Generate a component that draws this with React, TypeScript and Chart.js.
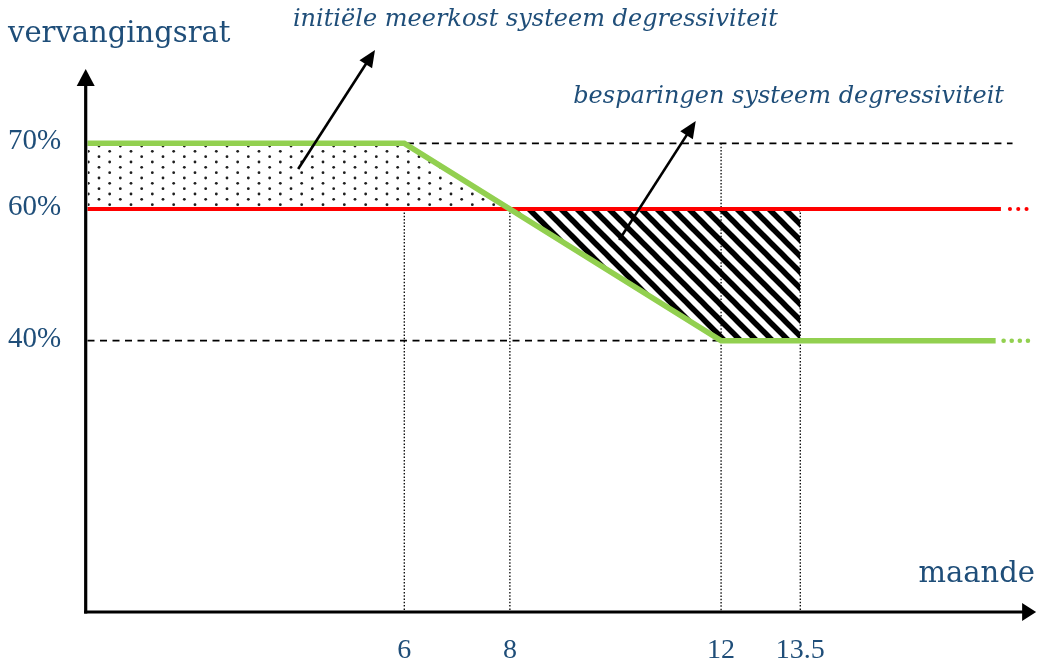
import React, { useEffect, useRef } from "react";
import { Chart, registerables } from "chart.js";

Chart.register(...registerables);

// ---- scale ranges ----
const X_MIN = 0;
const X_MAX = 17.9;
const Y_MIN = -1.1;
const Y_MAX = 80;

// ---- series ----
const greenX = [0, 6, 12, 17.2];
const greenY = [70, 70, 40, 40];
const greenTailX = [17.35, 17.83];
const greenTailY = [40, 40];
const redX = [0, 17.3];
const redY = [60, 60];
const redTailX = [17.47, 17.93];
const redTailY = [60, 60];

// shaded areas (filled down/up to the 60% reference level)
const REF_LEVEL = 60;
const meerkostX = [0, 6, 8];
const meerkostY = [70, 70, 60];
const besparingX = [8, 12, 13.5];
const besparingY = [60, 40, 40];

// guide lines
const dash70X = [6.05, 17.52];
const dash70Y = [70, 70];
const dash40X = [0, 12];
const dash40Y = [40, 40];
const vlineX = [6, 8, 12, 13.5];
const vlineTop = [60, 60, 70, 60];

// ticks
const xTickValues = [6, 8, 12, 13.5];
const xTickLabels = ["6", "8", "12", "13.5"];
const yTickValues = [70, 60, 40];
const yTickLabels = ["70%", "60%", "40%"];

// annotations
const annTexts = ["initiële meerkost systeem degressiviteit", "besparingen systeem degressiviteit"];
const annTextX = [3.89, 9.2];
const annTextY = [87.8, 76.1];
const arrowFromX = [3.99, 10.07];
const arrowFromY = [66.1, 55.3];
const arrowToX = [5.445, 11.52];
const arrowToY = [84.2, 73.4];

const yTitle = "vervangingsrat";
const xTitle = "maande";

const BLUE = "#1f4e79";
const GREEN = "#92d050";
const RED = "#ff0000";

const pts = (xs: number[], ys: number[]) => xs.map((x, i) => ({ x, y: ys[i] }));

function makeDotPattern(): CanvasPattern | string {
  const c = document.createElement("canvas");
  c.width = 64;
  c.height = 32;
  const g = c.getContext("2d");
  if (!g) return "rgba(0,0,0,0.2)";
  g.fillStyle = "#fff";
  g.fillRect(0, 0, 64, 32);
  g.fillStyle = "#1e1e1e";
  for (let i = 0; i < 6; i++) {
    for (let j = 0; j < 6; j++) {
      if ((i + j) % 2 !== 0) continue;
      g.beginPath();
      g.arc(i * (64 / 6) + 3, j * (32 / 6) + 2, 1.4, 0, Math.PI * 2);
      g.fill();
    }
  }
  return g.createPattern(c, "repeat") || "rgba(0,0,0,0.2)";
}

function makeHatchPattern(): CanvasPattern | string {
  const s = 16;
  const c = document.createElement("canvas");
  c.width = s;
  c.height = s;
  const g = c.getContext("2d");
  if (!g) return "rgba(0,0,0,0.5)";
  g.fillStyle = "#fff";
  g.fillRect(0, 0, s, s);
  g.strokeStyle = "#000";
  g.lineWidth = 5.5;
  for (let k = -1; k <= 1; k++) {
    g.beginPath();
    g.moveTo(-2, -2 + k * s);
    g.lineTo(s + 2, s + 2 + k * s);
    g.stroke();
  }
  return g.createPattern(c, "repeat") || "rgba(0,0,0,0.5)";
}

function drawArrow(
  ctx: CanvasRenderingContext2D,
  x1: number, y1: number, x2: number, y2: number,
  headLen: number, headHalf: number, lw: number
) {
  const ang = Math.atan2(y2 - y1, x2 - x1);
  const bx = x2 - headLen * Math.cos(ang);
  const by = y2 - headLen * Math.sin(ang);
  ctx.lineWidth = lw;
  ctx.beginPath();
  ctx.moveTo(x1, y1);
  ctx.lineTo(bx + Math.cos(ang) * 2, by + Math.sin(ang) * 2);
  ctx.stroke();
  ctx.beginPath();
  ctx.moveTo(x2, y2);
  ctx.lineTo(bx + headHalf * Math.sin(ang), by - headHalf * Math.cos(ang));
  ctx.lineTo(bx - headHalf * Math.sin(ang), by + headHalf * Math.cos(ang));
  ctx.closePath();
  ctx.fill();
}

const overlayPlugin = {
  id: "overlay",
  afterDraw(chart: any) {
    const { ctx, chartArea: a, scales } = chart;
    const xs = scales.x;
    const ys = scales.y;
    ctx.save();
    ctx.strokeStyle = "#000";
    ctx.fillStyle = "#000";
    ctx.lineCap = "butt";

    // axes with arrow heads
    const ax = xs.getPixelForValue(X_MIN) - 1.8;
    const ay = ys.getPixelForValue(Y_MIN) + 1;
    drawArrow(ctx, ax, ay + 1.5, ax, a.top - 8.5, 17, 9, 3.2);
    drawArrow(ctx, ax - 1.6, ay, a.right + 3.5, ay, 14, 9, 3.2);

    // annotation arrows
    for (let i = 0; i < arrowFromX.length; i++) {
      drawArrow(
        ctx,
        xs.getPixelForValue(arrowFromX[i]), ys.getPixelForValue(arrowFromY[i]),
        xs.getPixelForValue(arrowToX[i]), ys.getPixelForValue(arrowToY[i]),
        17, 7.5, 2.6
      );
    }

    // texts
    ctx.fillStyle = BLUE;
    ctx.textBaseline = "alphabetic";
    ctx.textAlign = "left";
    ctx.font = "29px 'DejaVu Serif'";
    ctx.fillText(yTitle, 8, 42);
    ctx.textAlign = "right";
    ctx.fillText(xTitle, chart.width - 2, 582);

    ctx.textAlign = "left";
    ctx.font = "italic 24px 'DejaVu Serif'";
    for (let i = 0; i < annTexts.length; i++) {
      ctx.fillText(annTexts[i], xs.getPixelForValue(annTextX[i]), ys.getPixelForValue(annTextY[i]));
    }

    ctx.font = "29px 'Liberation Serif'";
    ctx.textAlign = "left";
    for (let i = 0; i < yTickValues.length; i++) {
      ctx.fillText(yTickLabels[i], 8, ys.getPixelForValue(yTickValues[i]) + 6);
    }
    ctx.font = "28px 'Liberation Serif'";
    ctx.textAlign = "center";
    for (let i = 0; i < xTickValues.length; i++) {
      ctx.fillText(xTickLabels[i], xs.getPixelForValue(xTickValues[i]), ay + 46);
    }
    ctx.restore();
  },
};

export default function App() {
  const ref = useRef<HTMLCanvasElement | null>(null);

  useEffect(() => {
    if (!ref.current) return;
    const dots = makeDotPattern();
    const hatch = makeHatchPattern();

    const base = {
      pointRadius: 0,
      pointHoverRadius: 0,
      tension: 0,
      clip: false as any,
      fill: false as any,
    };

    const vlineSets = vlineX.map((vx, i) => ({
      ...base,
      data: pts([vx, vx], [vlineTop[i], Y_MIN]),
      borderColor: "#000",
      borderWidth: 1.3,
      borderDash: [1.5, 1.8],
      order: 6 + i,
    }));

    const chart = new Chart(ref.current, {
      type: "line",
      data: {
        datasets: [
          {
            ...base,
            data: pts(greenX, greenY),
            borderColor: GREEN,
            borderWidth: 5.5,
            borderJoinStyle: "miter",
            order: 0,
          },
          {
            ...base,
            data: pts(greenTailX, greenTailY),
            borderColor: GREEN,
            borderWidth: 4.5,
            borderCapStyle: "round",
            borderDash: [0.1, 8],
            order: 1,
          },
          {
            ...base,
            data: pts(redX, redY),
            borderColor: RED,
            borderWidth: 4,
            order: 2,
          },
          {
            ...base,
            data: pts(redTailX, redTailY),
            borderColor: RED,
            borderWidth: 4,
            borderCapStyle: "round",
            borderDash: [0.1, 8.2],
            order: 3,
          },
          {
            ...base,
            data: pts(dash70X, dash70Y),
            borderColor: "#000",
            borderWidth: 1.7,
            borderDash: [7, 5.5],
            order: 4,
          },
          {
            ...base,
            data: pts(dash40X, dash40Y),
            borderColor: "#000",
            borderWidth: 1.7,
            borderDash: [7, 5.5],
            order: 5,
          },
          ...vlineSets,
          {
            ...base,
            data: pts(besparingX, besparingY),
            borderWidth: 0,
            borderColor: "rgba(0,0,0,0)",
            backgroundColor: hatch as any,
            fill: { value: REF_LEVEL },
            order: 20,
          },
          {
            ...base,
            data: pts(meerkostX, meerkostY),
            borderWidth: 0,
            borderColor: "rgba(0,0,0,0)",
            backgroundColor: dots as any,
            fill: { value: REF_LEVEL },
            order: 21,
          },
        ] as any,
      },
      options: {
        animation: false,
        responsive: true,
        maintainAspectRatio: false,
        events: [],
        layout: { padding: { left: 87.5, right: 4.4, top: 77.56, bottom: 52 } },
        plugins: { legend: { display: false }, tooltip: { enabled: false }, title: { display: false } },
        scales: {
          x: { type: "linear", min: X_MIN, max: X_MAX, display: false },
          y: { type: "linear", min: Y_MIN, max: Y_MAX, display: false },
        },
      },
      plugins: [overlayPlugin],
    });
    return () => chart.destroy();
  }, []);

  return (
    <div style={{ position: "absolute", left: 0, top: 0, width: 1037, height: 663, background: "#fff" }}>
      <canvas ref={ref} />
    </div>
  );
}
